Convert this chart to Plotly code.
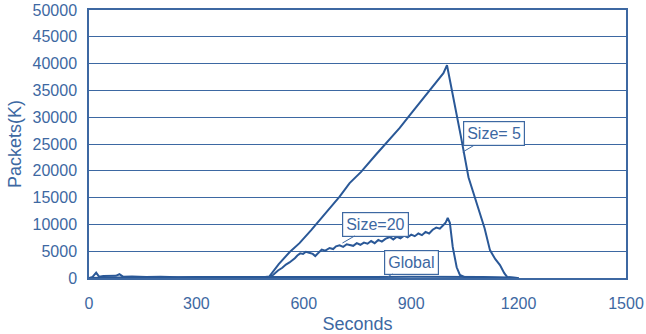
import plotly.graph_objects as go

# Size=5 series (seconds, packets K)
t5 = [0, 100, 200, 300, 400, 480, 504, 530, 560, 588, 620, 660, 700, 728, 760, 800, 830, 868, 900, 940, 970, 990, 1000,
      1020, 1040, 1060, 1080, 1092, 1105, 1120, 1135, 1148, 1160, 1168, 1180, 1195]
v5 = [0, 100, 50, 80, 60, 100, 300, 2600, 4800, 6500, 8900, 12000, 15200, 17700, 19800, 22900, 25200, 28000, 30700, 34000, 36500, 38200, 39700,
      33000, 26000, 18800, 14700, 12100, 9300, 5200, 3500, 2400, 900, 200, 150, 0]

# Size=20 series
t20 = [0, 480, 504, 515, 528, 540, 550, 560, 568, 575, 582, 590, 598, 606, 615, 625, 632, 640, 650, 660, 672, 682, 690, 700,
       710, 720, 728, 738, 748, 758, 768, 778, 788, 798, 808, 818, 828, 840, 850, 860, 870, 880, 890, 900, 910, 920, 930,
       940, 950, 960, 970, 980, 990, 996, 1002, 1008, 1016, 1027, 1036, 1050, 1100, 1200]
v20 = [0, 100, 190, 600, 1400, 1900, 2500, 2900, 3300, 3700, 4200, 4600, 4500, 4900, 4700, 4500, 4100, 4700, 5300, 5100, 5600, 5400, 5900, 6100,
       5800, 6300, 6150, 6000, 6500, 6200, 6600, 6400, 6900, 6500, 7100, 6800, 7300, 7650, 7200, 7700, 7400, 7900, 7600, 8100, 7800, 8300, 8000,
       8600, 8300, 9000, 9400, 9200, 9900, 10300, 11200, 10300, 5800, 2000, 560, 150, 100, 0]

# Global series (near zero)
tg = [0, 10, 20, 28, 40, 60, 75, 85, 95, 120, 160, 200, 250, 300, 400, 500, 600, 700, 800, 900, 1000, 1100, 1200]
vg = [0, 200, 1000, 250, 350, 300, 400, 700, 250, 300, 200, 250, 150, 200, 150, 200, 200, 150, 200, 250, 200, 200, 0]

blue = "#3d68a2"
line = "#2a5897"
font = "Liberation Sans, Arial, sans-serif"

fig = go.Figure()
for t, v in [(tg, vg), (t20, v20), (t5, v5)]:
    fig.add_trace(go.Scatter(x=t, y=v, mode="lines", line=dict(color=line, width=2), showlegend=False))

def callout(text, tipx, tipy, cx, cy):
    fig.add_annotation(x=tipx, y=tipy, ax=cx, ay=cy, axref="x", ayref="y", text=text,
                       showarrow=True, arrowhead=0, arrowwidth=1, arrowcolor=blue,
                       font=dict(family=font, size=16, color=blue),
                       bordercolor=blue, borderwidth=1.2, borderpad=3, bgcolor="white")

callout("Size= 5", 1044, 23500, 1131, 26960)
callout("Size=20", 708, 6530, 800, 10070)
callout("Global", 834, 190, 901, 2985)

fig.update_layout(
    width=646, height=334,
    margin=dict(l=89, r=20, t=10, b=56),
    plot_bgcolor="white", paper_bgcolor="white",
    font=dict(family=font, size=16, color=blue),
    xaxis=dict(range=[0, 1500], tickvals=[0, 300, 600, 900, 1200, 1500], showgrid=False,
               showline=True, linecolor=blue, linewidth=1.5, mirror=True, ticks="",
               ticklabelstandoff=10,
               title=dict(text="Seconds", standoff=8, font=dict(size=18)), zeroline=False,
               automargin=False),
    yaxis=dict(range=[0, 50000], tickvals=list(range(0, 50001, 5000)), tickformat="d",
               showgrid=True, gridcolor=blue, gridwidth=1.2,
               showline=True, linecolor=blue, linewidth=1.5, mirror=True, ticks="",
               ticklabelstandoff=7,
               title=dict(text="Packets(K)", standoff=6, font=dict(size=18)), zeroline=False,
               automargin=False),
)
fig.write_html("out.html")
